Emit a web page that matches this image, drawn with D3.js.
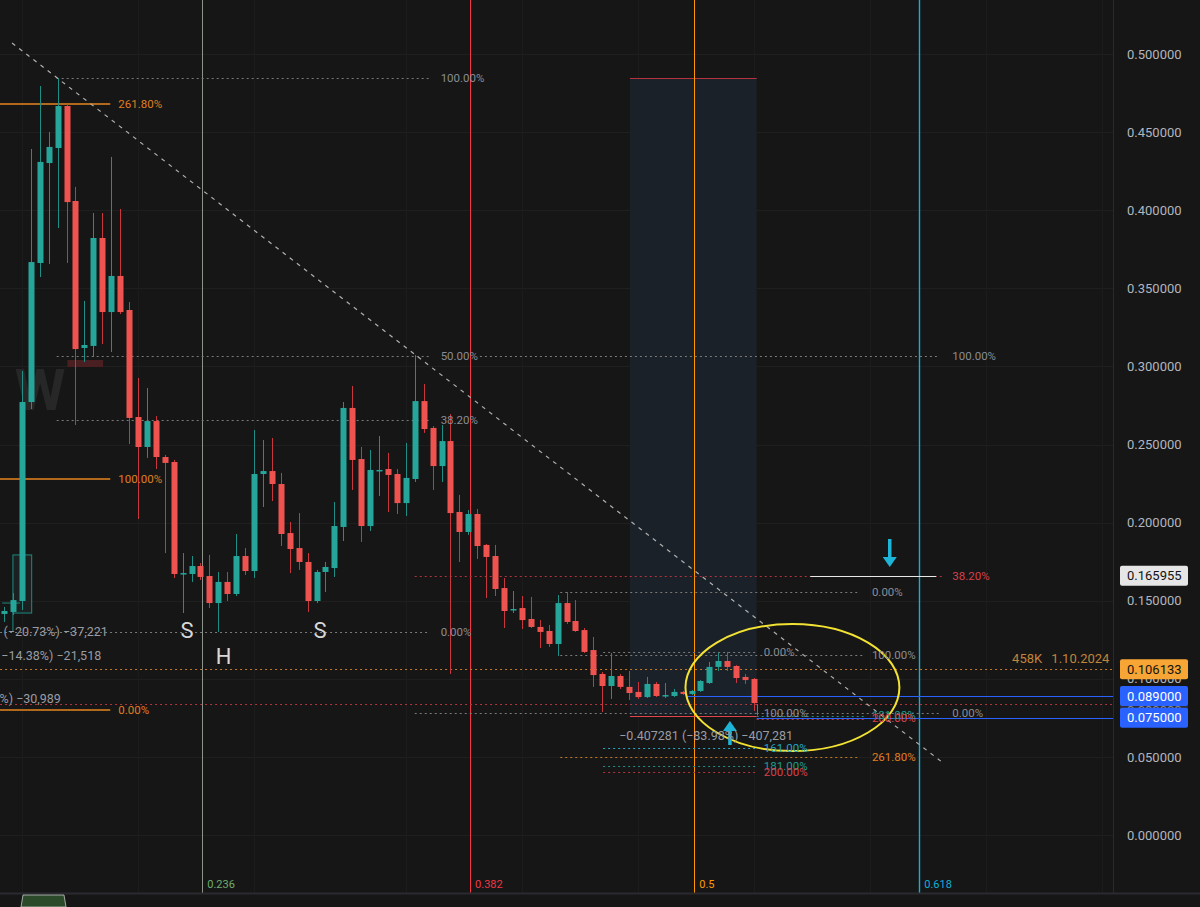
<!DOCTYPE html>
<html>
<head>
<meta charset="utf-8">
<script src="https://cdn.jsdelivr.net/npm/d3@7"></script>
<style>
  html, body { margin: 0; padding: 0; background: #161616; }
  svg { display: block; font-family: Roboto, "Noto Sans", sans-serif; }
</style>
</head>
<body>
<svg id="chart" width="1200" height="907"></svg>
<script>
// candle data (price), one entry per bar
var opens  = [0.1415,0.1428,0.1498,0.2772,0.3662,0.4302,0.4398,0.4667,0.4059,0.3118,0.3131,0.3822,0.3348,0.3579,0.3361,0.2676,0.2484,0.2650,0.2420,0.2388,0.1671,0.1671,0.1722,0.1658,0.1485,0.1620,0.1543,0.1786,0.1690,0.2311,0.2330,0.2247,0.1933,0.1837,0.1748,0.1498,0.1684,0.1709,0.1972,0.2734,0.2407,0.1978,0.2330,0.2343,0.2311,0.2125,0.2279,0.2778,0.2606,0.2362,0.2522,0.2068,0.1940,0.2055,0.1857,0.1786,0.1581,0.1440,0.1453,0.1383,0.1332,0.1306,0.1223,0.1485,0.1370,0.1312,0.1184,0.1031,0.0954,0.1018,0.0948,0.0916,0.0883,0.0967,0.0890,0.0890,0.0916,0.0903,0.0922,0.0973,0.1076,0.1114,0.1082,0.1012,0.0999];
var closes = [0.1434,0.1504,0.2772,0.3668,0.4309,0.4405,0.4667,0.4052,0.3111,0.3137,0.3822,0.3348,0.3579,0.3348,0.2670,0.2484,0.2650,0.2420,0.2382,0.1671,0.1677,0.1722,0.1652,0.1485,0.1620,0.1543,0.1786,0.1690,0.2311,0.2330,0.2247,0.1927,0.1831,0.1748,0.1498,0.1684,0.1716,0.1978,0.2734,0.2401,0.1978,0.2337,0.2337,0.2305,0.2125,0.2286,0.2778,0.2599,0.2362,0.2522,0.2061,0.1940,0.2055,0.1850,0.1780,0.1575,0.1434,0.1447,0.1376,0.1332,0.1300,0.1223,0.1485,0.1364,0.1306,0.1172,0.1024,0.0954,0.1018,0.0948,0.0909,0.0883,0.0967,0.0890,0.0896,0.0916,0.0903,0.0922,0.0986,0.1076,0.1114,0.1076,0.1005,0.0992,0.0845];
var highs  = [0.1460,0.1549,0.2971,0.4392,0.4795,0.4501,0.4846,0.4680,0.4149,0.3419,0.3982,0.3982,0.4341,0.4008,0.3412,0.2926,0.2862,0.2682,0.2433,0.2401,0.1805,0.1786,0.1741,0.1793,0.1684,0.1684,0.1927,0.1837,0.2593,0.2529,0.2542,0.2318,0.2004,0.2061,0.1805,0.1697,0.1748,0.2132,0.2772,0.2875,0.2484,0.2465,0.2554,0.2446,0.2343,0.2510,0.3073,0.2887,0.2618,0.2625,0.2695,0.2177,0.2081,0.2087,0.1863,0.1857,0.1645,0.1562,0.1530,0.1524,0.1376,0.1344,0.1536,0.1556,0.1504,0.1325,0.1268,0.1044,0.1165,0.1031,0.1050,0.0980,0.1012,0.0980,0.0973,0.0935,0.0922,0.0928,0.0992,0.1108,0.1165,0.1172,0.1088,0.1031,0.1005];
var lows   = [0.1364,0.1408,0.1440,0.2727,0.3572,0.3656,0.3886,0.3662,0.2625,0.3028,0.3060,0.3143,0.3092,0.3335,0.2503,0.2023,0.2414,0.2343,0.1805,0.1645,0.1421,0.1620,0.1633,0.1453,0.1300,0.1498,0.1530,0.1665,0.1645,0.2100,0.2138,0.1850,0.1677,0.1697,0.1428,0.1485,0.1556,0.1652,0.1882,0.2209,0.1876,0.1946,0.2170,0.2068,0.2055,0.2042,0.2260,0.2574,0.2209,0.2260,0.1031,0.1748,0.1921,0.1767,0.1517,0.1530,0.1325,0.1421,0.1319,0.1325,0.1197,0.1204,0.1146,0.1351,0.1300,0.1165,0.0948,0.0787,0.0871,0.0935,0.0864,0.0871,0.0877,0.0883,0.0877,0.0883,0.0896,0.0896,0.0916,0.0967,0.1050,0.1050,0.0973,0.0967,0.0794];

var priceTicks = [0.5,0.45,0.4,0.35,0.3,0.25,0.2,0.15,0.1,0.05,0];
var timeFibs = [0.236, 0.382, 0.5, 0.618];
var timeFibBars = [22.2, 52.2, 77.3, 102.5];
var timeFibColors = ["#6fae6f", "#f23645", "#ff9800", "#0fb0dc"];
var timeFibLineColors = ["#a9b3a9", "#f23645", "#ff9800", "#0fb0dc"];

var svg = d3.select("#chart"),
    W = 1200, H = 907,
    plotRight = 1113, plotBottom = 893;

var x = d3.scaleLinear().domain([0, 124]).range([4, 4 + 8.929 * 124]);
var y = d3.scaleLinear().domain([0, 0.5]).range([835, 54]);
function crisp(v) { return Math.round(v) + 0.5; }

svg.append("rect").attr("width", W).attr("height", H).attr("fill", "#161616");

svg.append("defs").append("clipPath").attr("id", "plotClip")
  .append("rect").attr("x", 0).attr("y", 0).attr("width", plotRight).attr("height", plotBottom);

// grid
var grid = svg.append("g").attr("clip-path", "url(#plotClip)");
priceTicks.forEach(function(t) {
  grid.append("line").attr("x1", 0).attr("x2", plotRight).attr("y1", crisp(y(t))).attr("y2", crisp(y(t)))
    .attr("stroke", "#1f1f1f").attr("stroke-width", 1);
});
[2, 15, 28, 45, 58, 71, 84, 97, 110, 123].forEach(function(i) {
  grid.append("line").attr("x1", crisp(x(i))).attr("x2", crisp(x(i))).attr("y1", 0).attr("y2", plotBottom)
    .attr("stroke", "#1c1c1c").attr("stroke-width", 1);
});

var g = svg.append("g").attr("clip-path", "url(#plotClip)");

// shaded box (long/short style)
g.append("rect").attr("x", x(70.1)).attr("y", y(0.4846))
  .attr("width", x(84.3) - x(70.1)).attr("height", y(0.0768) - y(0.4846))
  .attr("fill", "#1b2128");
g.append("line").attr("x1", x(70.1)).attr("x2", x(84.3)).attr("y1", crisp(y(0.4846))).attr("y2", crisp(y(0.4846)))
  .attr("stroke", "#b3343c").attr("stroke-width", 1);

// watermark-like W and small red box
g.append("text").attr("x", x(1.2)).attr("y", y(0.272)).attr("font-size", 58).attr("font-weight", 700)
  .attr("fill", "#272727").text("W");
g.append("rect").attr("x", x(7.1)).attr("y", y(0.3041)).attr("width", x(11.1) - x(7.1))
  .attr("height", y(0.2996) - y(0.3041)).attr("fill", "#4a1f22");

// time fib vertical lines
timeFibBars.forEach(function(b, k) {
  g.append("line").attr("x1", crisp(x(b))).attr("x2", crisp(x(b))).attr("y1", 0).attr("y2", plotBottom)
    .attr("stroke", timeFibLineColors[k]).attr("stroke-width", k === 3 ? 1.4 : 1)
    .attr("opacity", k === 0 ? 0.8 : 1);
  g.append("text").attr("x", x(b) + 5).attr("y", 888).attr("font-size", 11)
    .attr("fill", timeFibColors[k]).text(String(timeFibs[k]));
});

// horizontal level lines [fromBar, toBar, price, color, dash, width]
var levelLines = [
  [-1, 11.9, 0.4680, "#e8861e", null, 1.5],
  [-1, 11.9, 0.2279, "#e8861e", null, 1.5],
  [-1, 11.9, 0.0800, "#e8861e", null, 1.5],
  [5.9, 47.7, 0.4846, "#7a7a7a", "2,3", 1],
  [5.9, 47.7, 0.3067, "#7a7a7a", "2,3", 1],
  [53.3, 104.8, 0.3067, "#7a7a7a", "2,3", 1],
  [5.9, 47.7, 0.2657, "#7a7a7a", "2,3", 1],
  [-1, 47.7, 0.1300, "#7a7a7a", "2,3", 1],
  [46.0, 105.2, 0.165955, "#b3343c", "2,3", 1],
  [62.3, 95.9, 0.1556, "#7a7a7a", "2,3", 1],
  [67.1, 84.3, 0.1172, "#7a7a7a", "2,3", 1],
  [62.3, 96.4, 0.1152, "#7a7a7a", "2,3", 1],
  [-1, 125, 0.106133, "#c7791f", "2,3", 1],
  [-1, 125, 0.0839, "#b3343c", "2,3", 1],
  [46.0, 84.3, 0.0781, "#7a7a7a", "2,3", 1],
  [84.3, 104.8, 0.0781, "#7a7a7a", "2,3", 1],
  [84.3, 96.4, 0.0762, "#1f8f88", "2,3", 1],
  [84.3, 96.4, 0.0743, "#b3343c", "2,3", 1],
  [67.1, 84.3, 0.0557, "#22a7c9", "2,3", 1],
  [62.3, 95.9, 0.0499, "#c7791f", "2,3", 1],
  [67.1, 84.3, 0.0442, "#1f8f88", "2,3", 1],
  [67.1, 84.3, 0.0403, "#b3343c", "2,3", 1],
  [70.1, 84.3, 0.0765, "#e0444e", null, 1],
  [76.5, 125, 0.089, "#2962ff", null, 1],
  [84.3, 125, 0.075, "#2962ff", null, 1],
  [90.3, 104.4, 0.165955, "#e8e8e8", null, 1]
];
levelLines.forEach(function(l) {
  var yy = l[5] === 1 ? crisp(y(l[2])) : y(l[2]);
  g.append("line").attr("x1", x(l[0])).attr("x2", x(l[1])).attr("y1", yy).attr("y2", yy)
    .attr("stroke", l[3]).attr("stroke-width", l[5])
    .attr("stroke-dasharray", l[4]);
});
g.append("line").attr("x1", crisp(x(84.3))).attr("x2", crisp(x(84.3))).attr("y1", y(0.0839)).attr("y2", y(0.0765))
  .attr("stroke", "#e0444e").attr("stroke-width", 1);

// measuring tool box on the left
g.append("rect").attr("x", x(1)).attr("y", y(0.1793)).attr("width", x(3.1) - x(1))
  .attr("height", y(0.1421) - y(0.1793)).attr("fill", "#1f2a2a").attr("fill-opacity", 0.6)
  .attr("stroke", "#1d8a80").attr("stroke-width", 1);
g.append("line").attr("x1", x(-0.2)).attr("x2", x(1.8)).attr("y1", y(0.1485)).attr("y2", y(0.1485))
  .attr("stroke", "#1d8a80");
g.append("line").attr("x1", x(1)).attr("x2", x(1)).attr("y1", y(0.1485)).attr("y2", y(0.1300))
  .attr("stroke", "#1d8a80");

// diagonal dashed trend line
g.append("line").attr("x1", x(0.9)).attr("y1", y(0.5070)).attr("x2", x(105.05)).attr("y2", y(0.0467))
  .attr("stroke", "#b0b0b0").attr("stroke-width", 1.2).attr("stroke-dasharray", "4,5");

// candles
var bars = d3.range(opens.length).map(function(i) {
  return {i: i, o: opens[i], c: closes[i], h: highs[i], l: lows[i]};
});
var candle = g.selectAll(".candle").data(bars).enter().append("g").attr("class", "candle");
candle.append("line")
  .attr("x1", function(d) { return Math.round(x(d.i)) + 0.5; })
  .attr("x2", function(d) { return Math.round(x(d.i)) + 0.5; })
  .attr("y1", function(d) { return y(d.h); })
  .attr("y2", function(d) { return y(d.l); })
  .attr("stroke", function(d) { return d.c >= d.o ? "#1f8f86" : "#c8363e"; })
  .attr("stroke-width", 1);
candle.append("rect")
  .attr("x", function(d) { return Math.round(x(d.i)) - 2.5; })
  .attr("width", 6)
  .attr("y", function(d) { return y(Math.max(d.o, d.c)); })
  .attr("height", function(d) { return Math.max(1.5, Math.abs(y(d.o) - y(d.c))); })
  .attr("fill", function(d) { return d.c >= d.o ? "#26a69a" : "#ef5350"; });

// yellow ellipse
g.append("ellipse").attr("cx", x(88.3)).attr("cy", y(0.0944))
  .attr("rx", x(88.3 + 11.98) - x(88.3)).attr("ry", y(0.0944 - 0.0407) - y(0.0944))
  .attr("fill", "none").attr("stroke", "#f2e233").attr("stroke-width", 2);

// arrows
function arrow(bar, pFrom, pTo) {
  var xa = x(bar), y0 = y(pFrom), y1 = y(pTo), dir = y1 > y0 ? 1 : -1;
  g.append("line").attr("x1", xa).attr("x2", xa).attr("y1", y0).attr("y2", y1 - dir * 8)
    .attr("stroke", "#1eb4d8").attr("stroke-width", 3.5);
  g.append("path").attr("d", "M" + (xa - 7) + "," + (y1 - dir * 10) + "L" + (xa + 7) + "," + (y1 - dir * 10) + "L" + xa + "," + y1 + "Z")
    .attr("fill", "#1eb4d8");
}
arrow(99.2, 0.1895, 0.1716);
arrow(81.3, 0.0576, 0.0730);

// level labels [bar, price, text, color]
var levelLabels = [
  [12.8, 0.4680, "261.80%", "#e07e22"],
  [12.8, 0.2279, "100.00%", "#e07e22"],
  [12.8, 0.0800, "0.00%", "#e07e22"],
  [48.9, 0.4846, "100.00%", "#8a8d93"],
  [48.9, 0.3067, "50.00%", "#8a8d93"],
  [106.2, 0.3067, "100.00%", "#8a8d93"],
  [48.9, 0.2657, "38.20%", "#8a8d93"],
  [48.9, 0.1300, "0.00%", "#8a8d93"],
  [106.2, 0.165955, "38.20%", "#d8404a"],
  [97.2, 0.1556, "0.00%", "#8a8d93"],
  [85.1, 0.1172, "0.00%", "#8a8d93"],
  [97.2, 0.1152, "100.00%", "#8a8d93"],
  [85.1, 0.0781, "100.00%", "#8a8d93"],
  [106.2, 0.0781, "0.00%", "#8a8d93"],
  [97.2, 0.0770, "181.00%", "#1f9a90"],
  [97.2, 0.0751, "200.00%", "#d8404a"],
  [85.1, 0.0557, "161.00%", "#22a7c9"],
  [97.2, 0.0499, "261.80%", "#e07e22"],
  [85.1, 0.0442, "181.00%", "#1f9a90"],
  [85.1, 0.0403, "200.00%", "#d8404a"]
];
levelLabels.forEach(function(l) {
  g.append("text").attr("x", x(l[0])).attr("y", y(l[1])).attr("dy", "0.35em")
    .attr("font-size", 11.5).attr("fill", l[3]).text(l[2]);
});

// measure texts
var measureTexts = [
  [-0.05, 0.1300, "(−20.73%) −37,221"],
  [-0.3, 0.1146, "−14.38%) −21,518"],
  [-0.5, 0.0876, "%) −30,989"],
  [68.9, 0.0634, "−0.407281 (−83.98%) −407,281"]
];
measureTexts.forEach(function(m) {
  g.append("text").attr("x", x(m[0])).attr("y", y(m[1])).attr("dy", "0.35em")
    .attr("font-size", 12.5).attr("fill", "#9a9ca3").text(m[2]);
});

// pattern letters
[[20.5, 0.1312, "S"], [24.6, 0.1146, "H"], [35.4, 0.1312, "S"]].forEach(function(s) {
  g.append("text").attr("x", x(s[0])).attr("y", y(s[1])).attr("dy", "0.35em")
    .attr("text-anchor", "middle").attr("font-size", 22).attr("fill", "#d8d8d8").text(s[2]);
});

// volume / date tag
[[112.9, "458K"], [117.3, "1.10.2024"]].forEach(function(t) {
  g.append("text").attr("x", x(t[0])).attr("y", y(0.1133)).attr("dy", "0.35em")
    .attr("font-size", 13).attr("fill", "#c0843a").text(t[1]);
});

// bottom pane separator and tab
svg.append("line").attr("x1", 0).attr("x2", W).attr("y1", plotBottom + 0.5).attr("y2", plotBottom + 0.5)
  .attr("stroke", "#2a2a31").attr("stroke-width", 2);
svg.append("path").attr("d", "M21,907L23,895L64,895L66,907Z").attr("fill", "#2a4a2a")
  .attr("stroke", "#c8c8c8").attr("stroke-width", 0.8);

// right price axis
svg.append("line").attr("x1", plotRight + 0.5).attr("x2", plotRight + 0.5).attr("y1", 0).attr("y2", plotBottom)
  .attr("stroke", "#2a2a2e");
var axis = svg.append("g").attr("transform", "translate(" + plotRight + ",0)")
  .call(d3.axisRight(y).tickValues(priceTicks).tickSize(0).tickPadding(14)
    .tickFormat(function(d) { return d.toFixed(6); }));
axis.select(".domain").remove();
axis.selectAll("text").attr("fill", "#b2b5be").attr("font-size", 13).attr("font-family", "Roboto, sans-serif");

// price labels on the axis [price, bg, fg]
var priceTags = [
  [0.0800, "#2c2f36", "#8a8d93"],
  [0.165955, "#e6e6e6", "#131313"],
  [0.106133, "#f7a534", "#131313"],
  [0.089, "#2962ff", "#ffffff"],
  [0.075, "#2962ff", "#ffffff"]
];
priceTags.forEach(function(t) {
  var yy = y(t[0]);
  svg.append("rect").attr("x", 1120).attr("y", yy - 10).attr("width", 68).attr("height", 20)
    .attr("rx", 2).attr("fill", t[1]);
  svg.append("text").attr("x", 1127).attr("y", yy).attr("dy", "0.35em").attr("font-size", 13)
    .attr("fill", t[2]).text(t[0].toFixed(6));
});
</script>
</body>
</html>
